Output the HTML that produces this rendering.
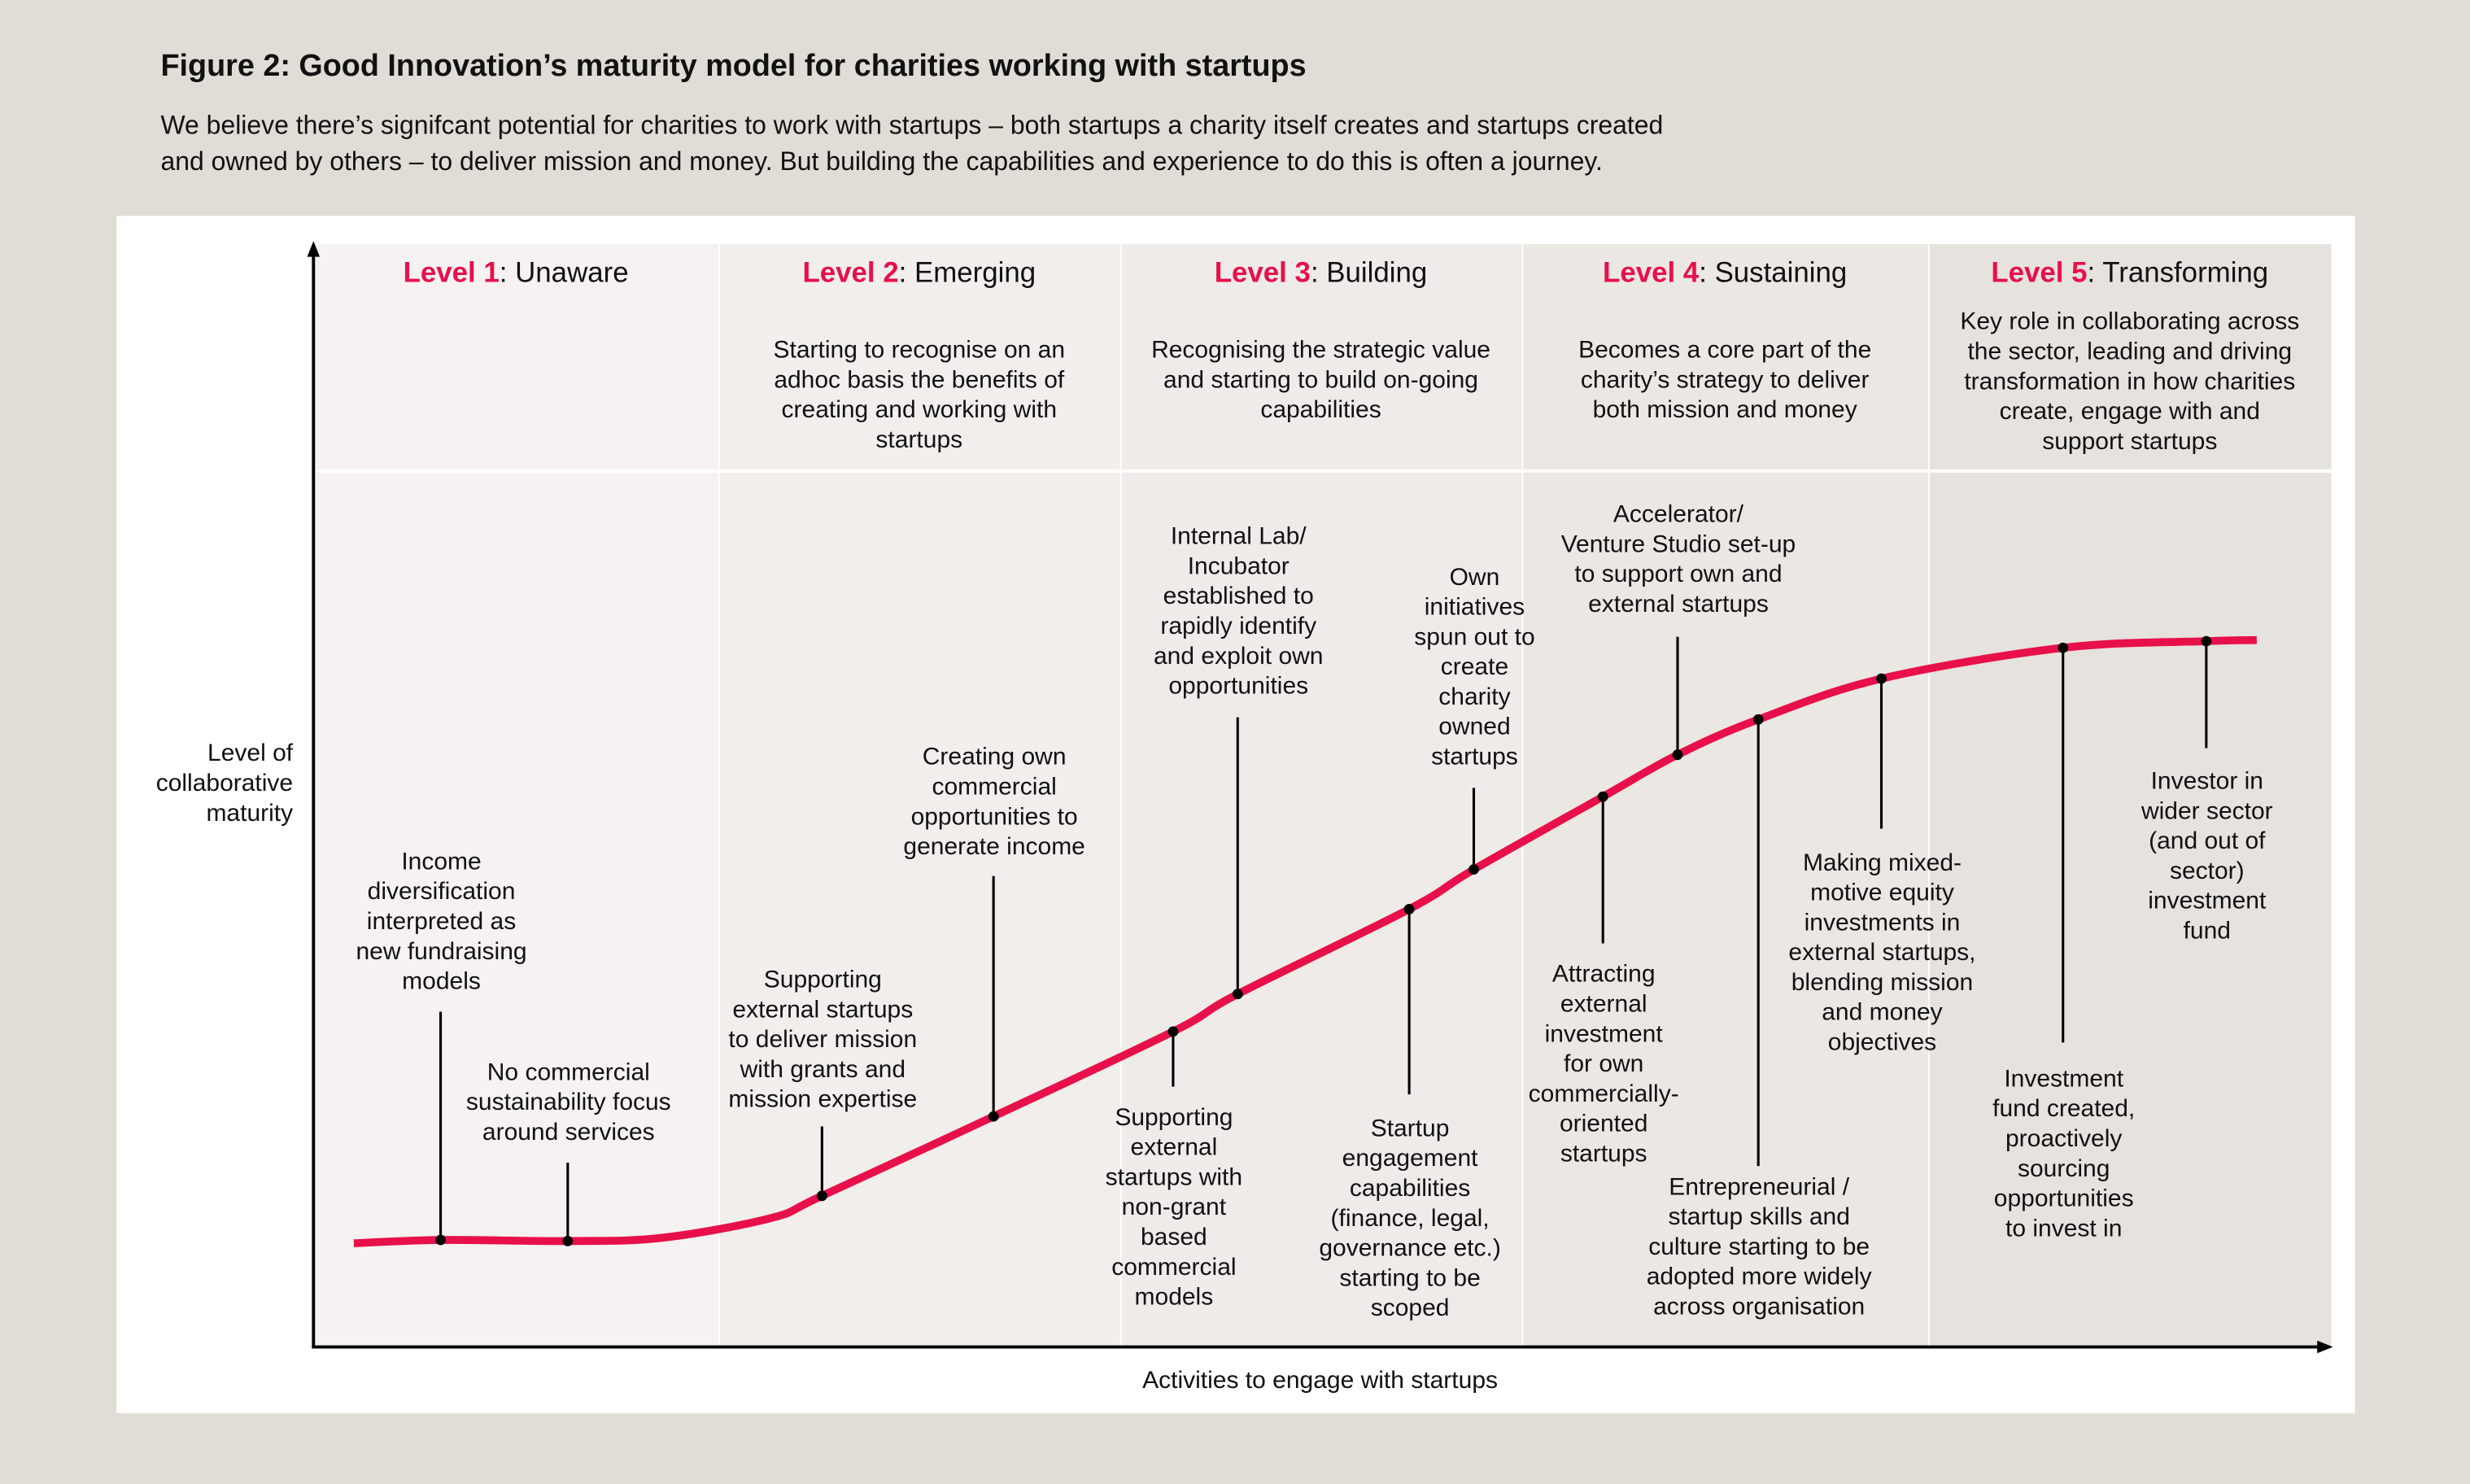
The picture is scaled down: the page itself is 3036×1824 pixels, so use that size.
<!DOCTYPE html>
<html><head><meta charset="utf-8">
<style>
html,body{margin:0;padding:0;background:#e0dcd6;}
svg{display:block;}
text{font-family:"Liberation Sans",sans-serif;fill:#111;}
</style></head>
<body>
<svg id="chart" width="3036" height="1824" viewBox="0 0 1568 942" xmlns="http://www.w3.org/2000/svg">
<rect x="0" y="0" width="1568" height="942" fill="#e0dcd6"/>
<text x="102" y="48" font-size="19.5" font-weight="bold">Figure 2: Good Innovation’s maturity model for charities working with startups</text>
<text x="102" y="85" font-size="16.5">We believe there’s signifcant potential for charities to work with startups – both startups a charity itself creates and startups created</text>
<text x="102" y="108" font-size="16.5">and owned by others – to deliver mission and money. But building the capabilities and experience to do this is often a journey.</text>
<rect x="74" y="137" width="1421" height="760" fill="#ffffff"/>
<g id="cols"></g>
<g id="curve"></g>
<g id="ann"></g>
<g id="axes"></g>
</svg>
<script>
// ---- data ----
const levelNames = ["Unaware","Emerging","Building","Sustaining","Transforming"];
const levelDescs = [
  [],
  ["Starting to recognise on an","adhoc basis the benefits of","creating and working with","startups"],
  ["Recognising the strategic value","and starting to build on-going","capabilities"],
  ["Becomes a core part of the","charity’s strategy to deliver","both mission and money"],
  ["Key role in collaborating across","the sector, leading and driving","transformation in how charities","create, engage with and","support startups"]
];
// curve: activity (0-100) vs maturity (0-100)
const curveActivity = [2.0,6.3,12.6,17.3,22.7,25.2,33.7,42.6,45.8,54.3,57.5,63.9,67.6,71.6,77.7,86.7,93.8,96.3];
const curveMaturity = [9.4,9.7,9.6,9.9,11.7,13.7,20.9,28.6,32.0,39.7,43.3,49.9,53.7,56.9,60.6,63.4,64.0,64.1];
// annotations: activity, maturity at dot, maturity at line end
const annActivity = [6.3,12.6,25.2,33.7,42.6,45.8,54.3,57.5,63.9,67.6,71.6,77.7,86.7,93.8];
const annMaturity = [9.7,9.6,13.7,20.9,28.6,32.0,39.7,43.3,49.9,53.7,56.9,60.6,63.4,64.0];
const annLineEnd  = [30.4,16.7,20.0,42.7,23.6,57.1,22.9,50.7,36.6,64.4,16.4,47.0,27.6,54.3];
const annTexts = [
  ["Income","diversification","interpreted as","new fundraising","models"],
  ["No commercial","sustainability focus","around services"],
  ["Supporting","external startups","to deliver mission","with grants and","mission expertise"],
  ["Creating own","commercial","opportunities to","generate income"],
  ["Supporting","external","startups with","non-grant","based","commercial","models"],
  ["Internal Lab/","Incubator","established to","rapidly identify","and exploit own","opportunities"],
  ["Startup","engagement","capabilities","(finance, legal,","governance etc.)","starting to be","scoped"],
  ["Own","initiatives","spun out to","create","charity","owned","startups"],
  ["Attracting","external","investment","for own","commercially-","oriented","startups"],
  ["Accelerator/","Venture Studio set-up","to support own and","external startups"],
  ["Entrepreneurial /","startup skills and","culture starting to be","adopted more widely","across organisation"],
  ["Making mixed-","motive equity","investments in","external startups,","blending mission","and money","objectives"],
  ["Investment","fund created,","proactively","sourcing","opportunities","to invest in"],
  ["Investor in","wider sector","(and out of","sector)","investment","fund"]
];
// label first-line centre y (layout, in maturity units)
const annLabelTop = [44.1,25.0,33.4,53.6,20.9,73.6,19.9,69.9,33.9,75.6,14.6,44.0,24.4,51.4];

// ---- layout / scales ----
const X0=199, X1=1480, Y0=855, Y1=155;
const sx = v => X0 + v*(X1-X0)/100;
const sy = v => Y0 - v*(Y0-Y1)/100;
const NS="http://www.w3.org/2000/svg";
function mk(tag, attrs, parent){const e=document.createElementNS(NS,tag);for(const k in attrs)e.setAttribute(k,attrs[k]);parent.appendChild(e);return e;}

// columns
const colsG=document.getElementById('cols');
const colEdges=[199,456,711,966,1224,1480];
const colFill=["#f5f2f1","#f1eeeb","#efebe8","#ebe7e3","#e6e2de"];
for(let i=0;i<5;i++){
  const r=mk('rect',{x:colEdges[i]+(i?1:0),y:155,width:colEdges[i+1]-colEdges[i]-(i?1:0),height:700,fill:colFill[i]},colsG);
  
  
  const cx=(colEdges[i]+colEdges[i+1])/2;
  const t=mk('text',{x:cx,y:179,'font-size':18,'text-anchor':'middle'},colsG);
  
  
  const ts=mk('tspan',{fill:'#e8104a','font-weight':'bold'},t); ts.textContent='Level '+(i+1);
  const ts2=mk('tspan',{},t); ts2.textContent=': '+levelNames[i];
  const d=levelDescs[i];
  const top = i===4?209:227;
  d.forEach((line,j)=>{
    const tl=mk('text',{x:cx,y:top+j*19,'font-size':15.5,'text-anchor':'middle'},colsG);
    
    
    tl.textContent=line;
  });
}
const sep=mk('line',{x1:199,x2:1480,y1:299,y2:299,stroke:'#ffffff','stroke-width':2},colsG);



// curve (catmull-rom)
const pts=curveActivity.map((a,i)=>[sx(a),sy(curveMaturity[i])]);
let d='M'+pts[0][0]+','+pts[0][1];
for(let i=0;i<pts.length-1;i++){
  const p0=pts[i-1]||pts[i],p1=pts[i],p2=pts[i+1],p3=pts[i+2]||p2;
  d+=' C'+(p1[0]+(p2[0]-p0[0])/6)+','+(p1[1]+(p2[1]-p0[1])/6)+' '+(p2[0]-(p3[0]-p1[0])/6)+','+(p2[1]-(p3[1]-p1[1])/6)+' '+p2[0]+','+p2[1];
}
const cp=mk('path',{d:d,fill:'none',stroke:'#e8104a','stroke-width':5,'stroke-linecap':'butt'},document.getElementById('curve'));



// annotations
const annG=document.getElementById('ann');
annActivity.forEach((a,i)=>{
  const x=sx(a), y=sy(annMaturity[i]), ye=sy(annLineEnd[i]);
  const l=mk('line',{x1:x,x2:x,y1:y,y2:ye,stroke:'#000','stroke-width':1.6},annG);
  
  
  const c=mk('circle',{cx:x,cy:y,r:3.3,fill:'#000'},annG);
  
  
  const top=sy(annLabelTop[i]);
  annTexts[i].forEach((line,j)=>{
    const t=mk('text',{x:x+0.5,y:top+5.5+j*19,'font-size':15.5,'text-anchor':'middle'},annG);
    
    
    t.textContent=line;
  });
});

// axes
const ax=document.getElementById('axes');
const ya=mk('line',{x1:199,x2:199,y1:856,y2:162,stroke:'#000','stroke-width':2},ax);


const yah=mk('path',{d:'M199,153 L195,163 L203,163 Z',fill:'#000'},ax);


const xa=mk('line',{x1:198,x2:1472,y1:855,y2:855,stroke:'#000','stroke-width':2},ax);


const xah=mk('path',{d:'M1481,855 L1471,851 L1471,859 Z',fill:'#000'},ax);


["Level of","collaborative","maturity"].forEach((s,j)=>{
  const t=mk('text',{x:186,y:483+j*19,'font-size':15.5,'text-anchor':'end'},ax);
  
  
  t.textContent=s;
});
const xt=mk('text',{x:838,y:881,'font-size':15.5,'text-anchor':'middle'},ax);


xt.textContent='Activities to engage with startups';
</script>
</body></html>
